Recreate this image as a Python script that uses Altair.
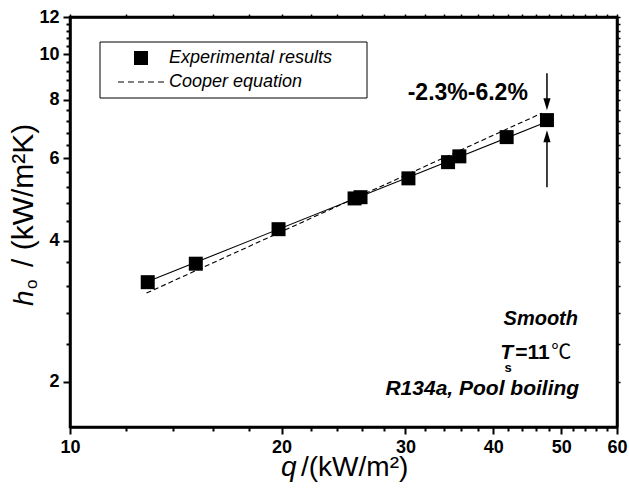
import altair as alt
import pandas as pd

# ---------------- data ----------------
q_exp = [12.9, 15.1, 19.8, 25.4, 25.9, 30.3, 34.5, 35.8, 41.8, 47.7]
h_exp = [3.26, 3.57, 4.23, 4.92, 4.95, 5.43, 5.88, 6.05, 6.65, 7.23]
q_fit = [12.9, 47.7]
h_fit = [3.27, 7.17]
q_cooper = [12.85, 46.9]
h_cooper = [3.09, 7.48]
series_names = ["Experimental results", "Cooper equation"]

x_major = [10, 20, 30, 40, 50, 60]
x_minor = [12, 14, 16, 18, 22, 24, 26, 28, 32, 34, 36, 38, 42, 44, 46, 48, 52, 54, 56, 58]
y_major = [2, 4, 6, 8, 10, 12]
y_minor = [2.4, 2.8, 3.2, 3.6, 4.4, 4.8, 5.2, 5.6, 6.4, 6.8, 7.2, 7.6,
           8.4, 8.8, 9.2, 9.6, 10.4, 10.8, 11.2, 11.6]

arrow_q = [47.7]
arrow_down_h = [9.1, 7.82]   # shaft top, head centre
arrow_up_h = [5.2, 6.68]     # shaft bottom, head centre
range_label = "-2.3%-6.2%"
range_pos = [36.8, 7.97]
smooth_label = "Smooth"
smooth_pos = [52.8, 2.636]
fluid_label = "R134a, Pool boiling"
fluid_pos = [53.0, 1.875]
ts_pos = [42.7, 2.239]

F = "Liberation Sans"
W, H = 547, 410

xs = alt.Scale(type="log", domain=[10, 60], nice=False)
ys = alt.Scale(type="log", domain=[1.6, 12], nice=False)


def dash_symbol(x0=-3.29, dash=0.857, gap=0.571, n=5, hw=0.075):
    parts = []
    x = x0
    for _ in range(n):
        parts.append(f"M{x:.3f},{-hw}H{x + dash:.3f}V{hw}H{x:.3f}Z")
        x += dash + gap
    return "".join(parts)


DASH_PATH = dash_symbol()

df_exp = pd.DataFrame({"q": q_exp, "h": h_exp, "series": series_names[0]})
df_fit = pd.DataFrame({"q": q_fit, "h": h_fit})
df_coop = pd.DataFrame({"q": q_cooper, "h": h_cooper})

common_lab = dict(labelFont=F, labelFontWeight="bold", labelFontSize=18, labelColor="black",
                  tickColor="black", domainColor="black", grid=False, title=None,
                  labelFlush=False, labelOverlap=False)

ax_bottom = alt.Axis(orient="bottom", values=x_major, format="d", tickSize=7, tickWidth=2,
                     domainWidth=2.5, labelPadding=4, **common_lab)
ax_left = alt.Axis(orient="left", values=y_major, format="d", tickSize=7, tickWidth=2,
                   domainWidth=2.5, labelPadding=4, **common_lab)
ax_bottom_minor = alt.Axis(orient="bottom", values=x_minor, labels=False, tickSize=4, tickWidth=2,
                           tickColor="black", domain=False, grid=False, title=None)
ax_left_minor = alt.Axis(orient="left", values=y_minor, labels=False, tickSize=4, tickWidth=2,
                         tickColor="black", domain=False, grid=False, title=None)
ax_top = alt.Axis(orient="top", values=x_major + x_minor, labels=False, tickSize=3, tickWidth=1.5,
                  tickColor="black", domainColor="black", domainWidth=2.5, grid=False, title=None)
ax_right = alt.Axis(orient="right", values=y_major + y_minor, labels=False, tickSize=3, tickWidth=1.5,
                    tickColor="black", domainColor="black", domainWidth=2.5, grid=False, title=None)

legend = alt.Legend(
    title=None, orient="none", legendX=30, legendY=25, direction="vertical",
    labelFont=F, labelFontStyle="italic", labelFontSize=18, labelColor="black", labelLimit=400,
    padding=7, rowPadding=6,
    symbolOffset=25, labelOffset=19, symbolSize=196,
    symbolFillColor="black", symbolStrokeColor="black", symbolStrokeWidth=1, symbolOpacity=1,
)

# legend frame (decoration, in plot-area pixels)
frame = alt.Chart(pd.DataFrame({"k": [0]})).mark_rect(
    fill="white", stroke="black", strokeWidth=1
).encode(x=alt.value(30), x2=alt.value(297), y=alt.value(25), y2=alt.value(81))

pts = alt.Chart(df_exp).mark_point(filled=True, size=196, color="black", opacity=1).encode(
    x=alt.X("q:Q", scale=xs, axis=ax_bottom),
    y=alt.Y("h:Q", scale=ys, axis=ax_left),
    shape=alt.Shape("series:N", scale=alt.Scale(domain=series_names, range=["square", DASH_PATH]),
                    legend=legend),
)

fit = alt.Chart(df_fit).mark_line(color="black", strokeWidth=1.1).encode(
    x=alt.X("q:Q", scale=xs, axis=ax_bottom_minor),
    y=alt.Y("h:Q", scale=ys, axis=ax_left_minor),
)

coop = alt.Chart(df_coop).mark_line(color="black", strokeWidth=1.1, strokeDash=[5, 3]).encode(
    x=alt.X("q:Q", scale=xs, axis=ax_top),
    y=alt.Y("h:Q", scale=ys, axis=ax_right),
)

df_arrows = pd.DataFrame({"q": arrow_q * 2, "h1": [arrow_down_h[0], arrow_up_h[0]],
                          "h2": [arrow_down_h[1], arrow_up_h[1]],
                          "dir": ["down", "up"]})
shafts = alt.Chart(df_arrows).mark_rule(color="black", strokeWidth=1.5).encode(
    x=alt.X("q:Q", scale=xs, axis=None),
    y=alt.Y("h1:Q", scale=ys, axis=None),
    y2="h2:Q",
)
heads = alt.Chart(df_arrows).mark_point(filled=True, size=144, color="black", opacity=1).encode(
    x=alt.X("q:Q", scale=xs, axis=None),
    y=alt.Y("h2:Q", scale=ys, axis=None),
    shape=alt.Shape("dir:N", scale=alt.Scale(domain=["down", "up"],
                                             range=["M-0.6,-1L0.6,-1L0,1Z", "M-0.6,1L0.6,1L0,-1Z"]),
                    legend=None),
)


def txt(label, pos, **kw):
    d = pd.DataFrame({"q": [pos[0]], "h": [pos[1]], "t": [label]})
    return alt.Chart(d).mark_text(font=F, color="black", baseline="alphabetic", **kw).encode(
        x=alt.X("q:Q", scale=xs, axis=None),
        y=alt.Y("h:Q", scale=ys, axis=None),
        text="t:N",
    )


t_range = txt(range_label, range_pos, fontSize=23, fontWeight="bold", align="center")
t_smooth = txt(smooth_label, smooth_pos, fontSize=20, fontWeight="bold", fontStyle="italic", align="right")
t_fluid = txt(fluid_label, fluid_pos, fontSize=21, fontWeight="bold", fontStyle="italic", align="right")
t_T = txt("T", ts_pos, fontSize=21, fontWeight="bold", fontStyle="italic", align="right")
t_s = txt("s", ts_pos, fontSize=13, fontWeight="bold", align="center", dx=-5, dy=13)
t_eq = txt("=11", ts_pos, fontSize=21, fontWeight="bold", align="left", dx=2)
t_deg = alt.Chart(pd.DataFrame({"q": [ts_pos[0]], "h": [ts_pos[1]], "t": ["\u2103"]})).mark_text(
    font="Noto Sans CJK SC", fontSize=20, color="black", baseline="alphabetic", align="left", dx=38
).encode(x=alt.X("q:Q", scale=xs, axis=None), y=alt.Y("h:Q", scale=ys, axis=None), text="t:N")


def title_piece(label, x, y, **kw):
    d = pd.DataFrame({"t": [label]})
    return alt.Chart(d).mark_text(color="black", baseline="alphabetic", align="left", **kw).encode(
        x=alt.value(x), y=alt.value(y), text="t:N")


xt_q = title_piece("q", 211, 459, font=F, fontSize=28, fontStyle="italic")
xt_rest = title_piece("/(kW/m\u00b2)", 231, 459, font=F, fontSize=28)
yt_h = title_piece("h", -37, 289, font=F, fontSize=28, fontStyle="italic", angle=270)
yt_o = title_piece("o", -33, 272, font=F, fontSize=17, angle=270)
yt_rest = title_piece("/ (kW/m\u00b2K)", -37, 250, font=F, fontSize=30, angle=270)

chart = alt.layer(
    frame, pts, fit, coop, shafts, heads,
    t_range, t_smooth, t_fluid, t_T, t_s, t_eq, t_deg,
    xt_q, xt_rest, yt_h, yt_o, yt_rest,
).resolve_axis(x="independent", y="independent").resolve_scale(shape="independent").properties(
    width=W, height=H,
    autosize=alt.AutoSizeParams(type="none"),
    padding={"left": 70, "top": 17, "right": 12, "bottom": 63},
    background="white",
).configure_view(stroke="black", strokeWidth=2.5)

chart.save("out.html", embed_options={"renderer": "svg", "actions": False})
